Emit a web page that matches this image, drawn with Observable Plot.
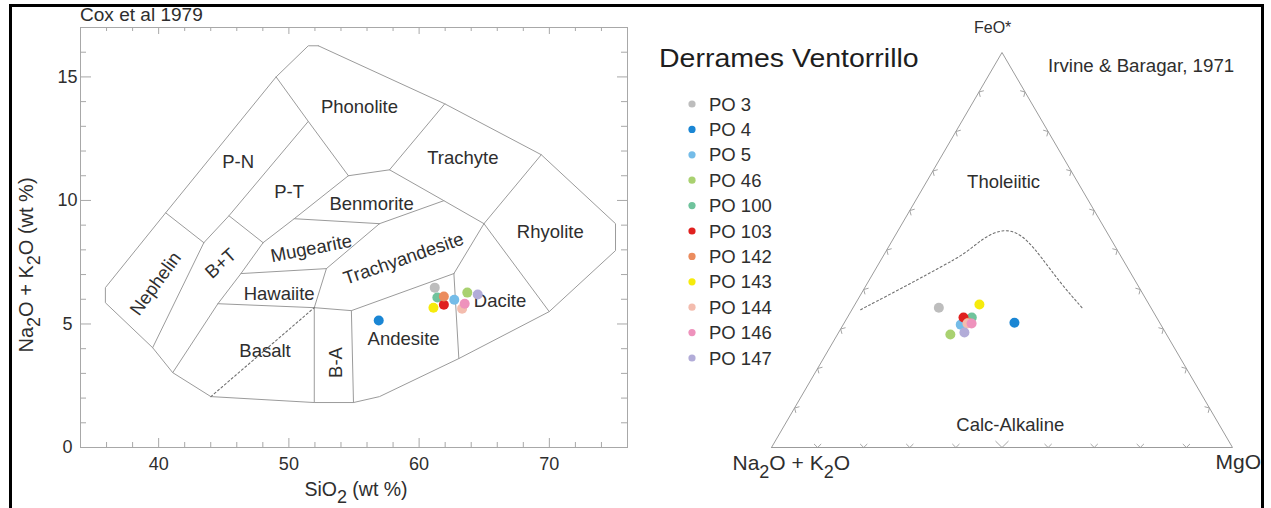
<!DOCTYPE html>
<html><head><meta charset="utf-8">
<script src="https://cdn.jsdelivr.net/npm/d3@7"></script>
<script src="https://cdn.jsdelivr.net/npm/@observablehq/plot@0.6"></script>
<style>
html,body{margin:0;padding:0;background:#fff;}
#wrap{position:relative;width:1271px;height:508px;overflow:hidden;font-family:"Liberation Sans",Arial,sans-serif;}
#wrap > *{position:absolute;top:0;}
#tas{left:0;width:640px;height:508px}
#afm{left:640px;width:631px;height:508px}
#overlay{left:0;pointer-events:none}
#border{left:9px;top:4px;width:1249px;height:600px;border:3px solid #000;pointer-events:none}
</style></head><body>
<div id="wrap"><div id="tas"></div><div id="afm"></div><svg id="overlay" width="1271" height="508"></svg><div id="border"></div></div>
<script>
// ---------- data ----------
const samples = ["PO 3","PO 4","PO 5","PO 46","PO 100","PO 103","PO 142","PO 143","PO 144","PO 146","PO 147"];
const colors  = ["#bdbdbd","#1a86d4","#74bce8","#a9d170","#6fc39c","#e0211f","#eb8c5e","#f6eb0c","#f3bcae","#ee92bc","#b2acd8"];
// TAS values
const sio2    = [61.2, 56.9, 62.7, 63.7, 61.4, 61.9, 61.9, 61.1, 63.3, 63.5, 64.5];
const alkalis = [6.47, 5.14, 5.98, 6.27, 6.07, 5.78, 6.11, 5.66, 5.62, 5.82, 6.19];
// AFM values (%)
const afmA = [46.0, 31.5, 43.4, 46.9, 40.1, 41.9, 41.5, 36.8, 41.8, 40.9, 43.6];
const afmF = [35.4, 31.6, 31.1, 28.6, 32.9, 32.9, 31.6, 36.2, 31.4, 31.4, 29.1];
const afmM = [18.6, 36.9, 25.5, 24.5, 27.0, 25.2, 26.9, 27.0, 26.8, 27.7, 27.3];

// TAS (Cox et al 1979) boundaries, [SiO2, Na2O+K2O]
const tasBoundaries = [
 [[52.26,16.26],[51.49,16.26],[49.02,15.0],[40.54,9.50],[35.91,6.47],[35.91,5.86],[39.54,4.04],[41.08,3.03],[44.01,2.06],[51.95,1.82],[54.96,1.82],[56.96,2.06],[63.05,3.60],[69.99,5.50],[75.08,7.97],[75.08,9.06],[69.38,11.85],[61.97,13.91],[52.26,16.26]],
 [[40.54,9.50],[43.47,8.29]],
 [[43.47,8.29],[39.54,4.04]],
 [[43.47,8.29],[45.40,9.38],[51.49,13.2]],
 [[45.40,9.38],[48.02,8.29]],
 [[48.02,8.29],[46.32,7.04],[44.55,5.82],[41.08,3.03]],
 [[49.02,15.0],[51.49,13.2],[54.57,11.0]],
 [[48.02,8.29],[50.41,9.26],[54.57,11.0]],
 [[54.57,11.0],[57.73,11.24]],
 [[61.97,13.91],[57.73,11.24]],
 [[57.73,11.24],[61.90,9.99],[64.98,9.06]],
 [[50.41,9.26],[56.96,9.06]],
 [[56.96,9.06],[61.90,9.99]],
 [[56.96,9.06],[52.88,7.24]],
 [[46.32,7.04],[52.88,7.24]],
 [[52.88,7.24],[51.95,5.66]],
 [[44.55,5.82],[51.95,5.66]],
 [[51.95,5.66],[54.80,5.54],[62.67,7.04]],
 [[62.67,7.04],[64.98,9.06]],
 [[64.98,9.06],[69.38,11.85]],
 [[64.98,9.06],[69.99,5.50]],
 [[62.67,7.04],[63.05,3.60]],
 [[51.95,5.66],[51.95,1.82]],
 [[54.80,5.54],[54.96,1.82]]
];
const tasDashed = [[44.01,2.06],[51.95,5.66]];
const tasNames = ["Phonolite","P-N","Trachyte","P-T","Benmorite","Rhyolite","Mugearite","Trachyandesite","Nephelin","B+T","Hawaiite","Dacite","Basalt","Andesite","B-A"];
const tasNameX = [55.42,46.1,63.36,50.02,56.35,70.07,51.72,58.81,39.77,44.78,49.25,66.21,48.17,58.81,53.65];
const tasNameY = [13.79,11.57,11.73,10.35,9.87,8.73,8.05,7.64,6.63,7.44,6.23,5.94,3.92,4.37,3.44];
const tasNameAngle = [0,0,0,0,0,0,-11,-19,-54,-42,0,0,0,0,-90];
const xTickLabels = [40,50,60,70];
const yTickLabels = [0,5,10,15];

// AFM (Irvine & Baragar 1971) boundary, [A, F, M] %
const afmBoundary = [[63.2,34.9,1.9],[49.1,41.5,9.4],[39.6,46.1,14.3],[33.4,49.1,17.5],[27.8,52.9,19.3],[22.7,55.2,22.1],[19.7,54.7,25.6],[18.2,52.2,29.6],[17.4,48.4,34.2],[16.5,41.5,42.0],[14.9,35.2,49.9]];
const afmFieldNames = ["Tholeiitic","Calc-Alkaline"];
const afmFieldA = [16.1, 45.4], afmFieldF = [67.1, 5.6], afmFieldM = [16.8, 49.0];
const apexA = [100,0,0], apexF = [0,100,0], apexM = [0,0,100];
const afmTickValues = d3.range(10,100,10);

// ---------- TAS plot ----------
const font = '"Liberation Sans", Arial, sans-serif';
const FH = 420, FW = 547;
const axisGray = "#a8a8a8", lineGray = "#9b9b9b", textCol = "#2e2e2e";
const idx = d3.range(samples.length);
const xMinor = d3.range(36,76,2).filter(v => v % 10);
const xMajor = d3.range(40,76,10);
const yMinor = d3.range(1,17).filter(v => v % 5);
const yMajor = d3.range(5,17,5);

const tas = Plot.plot({
  width:640, height:508, marginLeft:80, marginRight:13, marginTop:27, marginBottom:61,
  x:{domain:[34,76], axis:null}, y:{domain:[0,17], axis:null},
  color:{domain:samples, range:colors},
  style:{fontFamily:font, fontSize:"18px", color:textCol, background:"transparent", overflow:"visible", maxWidth:"none"},
  marks:[
    Plot.frame({stroke:axisGray}),
    Plot.tickX(xMinor,{x:d=>d, insetTop:FH-5, stroke:axisGray}),
    Plot.tickX(xMajor,{x:d=>d, insetTop:FH-9, stroke:axisGray}),
    Plot.tickX(xMinor,{x:d=>d, insetBottom:FH-4, stroke:axisGray}),
    Plot.tickX(xMajor,{x:d=>d, insetBottom:FH-7, stroke:axisGray}),
    Plot.tickY(yMinor,{y:d=>d, insetRight:FW-6, stroke:axisGray}),
    Plot.tickY(yMajor,{y:d=>d, insetRight:FW-11, stroke:axisGray}),
    Plot.tickY(yMinor,{y:d=>d, insetLeft:FW-6, stroke:axisGray}),
    Plot.tickY(yMajor,{y:d=>d, insetLeft:FW-10, stroke:axisGray}),
    Plot.text(xTickLabels,{x:d=>d, frameAnchor:"bottom", lineAnchor:"top", dy:10, text:d=>String(d), fontSize:18, fill:textCol}),
    Plot.text(yTickLabels,{y:d=>d, frameAnchor:"left", dx:-13, textAnchor:"middle", text:d=>String(d), fontSize:18, fill:textCol}),
    ...tasBoundaries.map(b => Plot.line(b,{x:d=>d[0], y:d=>d[1], stroke:lineGray, strokeWidth:1})),
    Plot.line(tasDashed,{x:d=>d[0], y:d=>d[1], stroke:"#707070", strokeWidth:1.1, strokeDasharray:"2,2.5"}),
    Plot.text(d3.range(tasNames.length),{x:i=>tasNameX[i], y:i=>tasNameY[i], text:i=>tasNames[i], rotate:i=>tasNameAngle[i], fontSize:18.5, fill:textCol}),
    Plot.dot(idx,{x:i=>sio2[i], y:i=>alkalis[i], fill:i=>samples[i], r:5})
  ]
});
document.getElementById("tas").appendChild(tas);

// ---------- AFM plot ----------
const S3 = Math.sqrt(3)/2;
const tx = (a,f,m) => (m + f/2)/(a+f+m);
const ty = (a,f,m) => S3*f/(a+f+m);
const tri = [0,1,2,0].map(k => [apexA[k],apexF[k],apexM[k]]);

// tick chevrons along the three sides
const sides = [
  {pt:v=>[100-v,0,v], n:[0,1], t:[1,0]},
  {pt:v=>[100-v,v,0], n:[S3,-0.5], t:[0.5,S3]},
  {pt:v=>[0,v,100-v], n:[-S3,-0.5], t:[-0.5,S3]}
];
const chevrons = [];
sides.forEach((s,si) => afmTickValues.forEach(v => {
  const p = s.pt(v), x0 = tx(...p), y0 = ty(...p);
  const L = (si === 0 && v === 50) ? 0.02 : 0.011;
  for (const sg of [-1,1]) {
    const c = Math.SQRT1_2;
    chevrons.push({x1:x0, y1:y0, x2:x0 + L*(s.n[0]*c + sg*s.t[0]*c), y2:y0 + L*(s.n[1]*c + sg*s.t[1]*c)});
  }
}));

const afm = Plot.plot({
  width:631, height:508, marginLeft:131, marginRight:39, marginTop:52, marginBottom:61,
  x:{domain:[0,1], axis:null}, y:{domain:[0,S3], axis:null},
  color:{domain:samples, range:colors},
  style:{fontFamily:font, fontSize:"18px", color:textCol, background:"transparent", overflow:"visible", maxWidth:"none"},
  marks:[
    Plot.line(tri,{x:d=>tx(...d), y:d=>ty(...d), stroke:lineGray, strokeWidth:1}),
    Plot.link(chevrons,{x1:"x1", y1:"y1", x2:"x2", y2:"y2", stroke:"#9a9a9a", strokeWidth:0.9}),
    Plot.line(afmBoundary,{x:d=>tx(...d), y:d=>ty(...d), curve:"basis", stroke:"#707070", strokeWidth:1.1, strokeDasharray:"2,2.5"}),
    Plot.text([1],{x:i=>tx(apexA[i],apexF[i],apexM[i]), y:i=>ty(apexA[i],apexF[i],apexM[i]), text:()=>"FeO*", textAnchor:"start", dx:-28, dy:-25, fontSize:16, fill:textCol}),
    Plot.text([2],{x:i=>tx(apexA[i],apexF[i],apexM[i]), y:i=>ty(apexA[i],apexF[i],apexM[i]), text:()=>"MgO", textAnchor:"start", dx:-17, dy:15, fontSize:21, fill:textCol}),
    Plot.text([0,1],{x:i=>tx(afmFieldA[i],afmFieldF[i],afmFieldM[i]), y:i=>ty(afmFieldA[i],afmFieldF[i],afmFieldM[i]), text:i=>afmFieldNames[i], fontSize:18.5, fill:textCol}),
    Plot.dot(idx,{x:i=>tx(afmA[i],afmF[i],afmM[i]), y:i=>ty(afmA[i],afmF[i],afmM[i]), fill:i=>samples[i], r:5})
  ]
});
document.getElementById("afm").appendChild(afm);

// ---------- titles, captions, legend ----------
const ov = d3.select("#overlay").attr("font-family", font).attr("fill", textCol);
ov.append("text").attr("transform","translate(80,21) scale(1.03,1)").attr("font-size",18.5).text("Cox et al 1979");
ov.append("text").attr("transform","translate(1048,72) scale(1.07,1)").attr("font-size",17.5).text("Irvine & Baragar, 1971");

function subText(parent, parts, size, subSize) {
  parts.forEach((p,i) => {
    const isSub = i % 2 === 1;
    parent.append("tspan").attr("dy", isSub ? size*0.36 : (i ? -size*0.36 : 0)).attr("font-size", isSub ? subSize : size).text(p);
  });
}
subText(ov.append("text").attr("x",356).attr("y",496).attr("text-anchor","middle"), ["SiO","2"," (wt %)"], 19.5, 18);
subText(ov.append("text").attr("transform","translate(33,265) rotate(-90)").attr("text-anchor","middle"), ["Na","2","O + K","2","O  (wt %)"], 20, 18);
subText(ov.append("text").attr("x",850).attr("y",470).attr("text-anchor","end"), ["Na","2","O + K","2","O"], 21, 18);

ov.append("text").attr("transform","translate(659,67) scale(1.14,1)").attr("font-size",25).attr("fill","#1e1e1e").text("Derrames Ventorrillo");
const lg = ov.append("g");
samples.forEach((s,i) => {
  const cy = 104 + i*25.4;
  lg.append("circle").attr("cx",692).attr("cy",cy).attr("r",3.6).attr("fill",colors[i]);
  lg.append("text").attr("x",709).attr("y",cy+6.5).attr("font-size",18.5).text(s);
});
</script></body></html>
